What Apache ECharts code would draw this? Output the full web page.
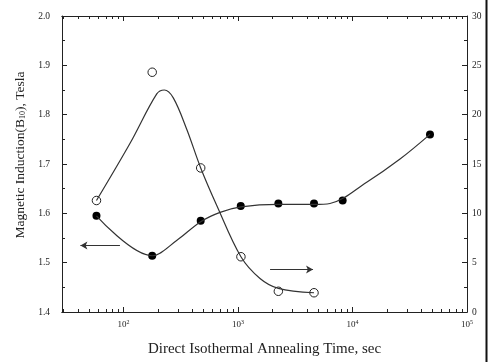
<!DOCTYPE html>
<html>
<head>
<meta charset="utf-8">
<script src="https://cdn.jsdelivr.net/npm/echarts@6/dist/echarts.min.js"></script>
<style>
  html, body { margin: 0; padding: 0; background: #fff; }
  #chart { width: 493px; height: 362px; }
</style>
</head>
<body>
<div id="chart"></div>
<script>
// measured points (time in sec)
const inductionTimes = [58, 178, 472, 1056, 2250, 4610, 8200, 47500]
const inductionTesla = [1.595, 1.514, 1.585, 1.615, 1.620, 1.620, 1.626, 1.760]
const rightTimes = [58, 178, 472, 1060, 2250, 4610]
const rightValues = [11.3, 24.3, 14.6, 5.6, 2.1, 1.95]

// fitted curves
const inductionFitTimes = [58, 178, 291, 472, 697, 1060, 2250, 4610, 6360, 13300, 26000, 47500]
const inductionFitTesla = [1.595, 1.514, 1.545, 1.583, 1.602, 1.613, 1.618, 1.618, 1.620, 1.663, 1.710, 1.760]
const rightFitTimes = [58, 114, 195, 227, 272, 357, 472, 652, 1060, 1556, 2250, 4610]
const rightFitValues = [11.3, 17.1, 22.1, 22.5, 21.7, 18.5, 14.6, 10.8, 5.6, 3.4, 2.4, 1.95]

// axis ticks
const decadeExponents = [2, 3, 4, 5]
const minorTimes = [30, 40, 50, 60, 70, 80, 90, 200, 300, 400, 500, 600, 700, 800, 900,
  2000, 3000, 4000, 5000, 6000, 7000, 8000, 9000, 20000, 30000, 40000, 50000, 60000, 70000, 80000, 90000]

// arrows
const leftArrow = { from: 93, to: 42, y: 1.535 }
const rightArrow = { from: 1905, to: 4520, y: 4.3 }

const lg = v => Math.log10(v)
const pairs = (xs, ys) => xs.map((x, i) => [lg(x), ys[i]])

const xMin = lg(29)
const xMax = 5
const font = 'Liberation Serif'
const ink = '#222'

const chart = echarts.init(document.getElementById('chart'))

const baseX = (pos, withLabels, ticks, len) => ({
  type: 'value',
  position: pos,
  min: xMin,
  max: xMax,
  axisLine: { show: true, onZero: false, lineStyle: { color: ink, width: 1 } },
  axisTick: { show: true, inside: true, length: len, lineStyle: { color: ink }, customValues: ticks },
  axisLabel: withLabels ? {
    show: true,
    margin: 7,
    customValues: decadeExponents,
    formatter: v => '{b|10}{s|' + Math.round(v) + '}',
    rich: {
      b: { fontFamily: font, fontSize: 9, color: ink, lineHeight: 12 },
      s: { fontFamily: font, fontSize: 6, color: ink, verticalAlign: 'top', lineHeight: 12 }
    }
  } : { show: false },
  splitLine: { show: false }
})

const arrowLine = (a) => ({
  silent: true,
  symbol: ['none', 'arrow'],
  symbolSize: [6, 7],
  label: { show: false },
  lineStyle: { color: '#333', width: 1, type: 'solid' },
  data: [[{ coord: [lg(a.from), a.y] }, { coord: [lg(a.to), a.y] }]]
})

const option = {
  animation: false,
  backgroundColor: '#fff',
  grid: { left: 62, right: 26, top: 16, bottom: 49 },
  xAxis: [
    Object.assign(baseX('bottom', true, decadeExponents, 5), {
      name: 'Direct Isothermal Annealing Time, sec',
      nameLocation: 'middle',
      nameGap: 30,
      nameTextStyle: { fontFamily: font, fontSize: 15, color: ink }
    }),
    baseX('bottom', false, minorTimes.map(lg), 3),
    baseX('top', false, decadeExponents, 5),
    baseX('top', false, minorTimes.map(lg), 3)
  ],
  yAxis: [
    {
      type: 'value',
      position: 'left',
      min: 1.4,
      max: 2.0,
      interval: 0.1,
      name: 'Magnetic Induction(B{sub|10}), Tesla',
      nameLocation: 'middle',
      nameRotate: 90,
      nameGap: 35,
      nameTextStyle: {
        fontFamily: font, fontSize: 13.5, color: ink,
        padding: [0, 0, 0, 18],
        rich: { sub: { fontFamily: font, fontSize: 8, color: ink, verticalAlign: 'bottom' } }
      },
      axisLine: { show: true, lineStyle: { color: ink } },
      axisTick: { show: true, inside: true, length: 5, lineStyle: { color: ink } },
      minorTick: { show: true, splitNumber: 2, length: 3, lineStyle: { color: ink } },
      axisLabel: { margin: 12, fontFamily: font, fontSize: 9.5, color: ink, formatter: v => v.toFixed(1) },
      splitLine: { show: false }
    },
    {
      type: 'value',
      position: 'right',
      min: 0,
      max: 30,
      interval: 5,
      axisLine: { show: true, lineStyle: { color: ink } },
      axisTick: { show: true, inside: true, length: 5, lineStyle: { color: ink } },
      minorTick: { show: true, splitNumber: 2, length: 3, lineStyle: { color: ink } },
      axisLabel: { margin: 5, fontFamily: font, fontSize: 9.5, color: ink },
      splitLine: { show: false }
    }
  ],
  series: [
    {
      type: 'line',
      xAxisIndex: 0,
      yAxisIndex: 0,
      smooth: 0.35,
      showSymbol: false,
      silent: true,
      lineStyle: { color: '#333', width: 1.2 },
      data: pairs(inductionFitTimes, inductionFitTesla),
      markLine: arrowLine(leftArrow)
    },
    {
      type: 'line',
      xAxisIndex: 0,
      yAxisIndex: 1,
      smooth: 0.35,
      showSymbol: false,
      silent: true,
      lineStyle: { color: '#333', width: 1.2 },
      data: pairs(rightFitTimes, rightFitValues),
      markLine: arrowLine(rightArrow)
    },
    {
      type: 'scatter',
      xAxisIndex: 0,
      yAxisIndex: 0,
      symbolSize: 8,
      itemStyle: { color: '#000', opacity: 1 },
      data: pairs(inductionTimes, inductionTesla)
    },
    {
      type: 'scatter',
      xAxisIndex: 0,
      yAxisIndex: 1,
      symbolSize: 8.5,
      itemStyle: { color: '#fff', borderColor: '#222', borderWidth: 1, opacity: 1 },
      data: pairs(rightTimes, rightValues)
    }
  ],
  graphic: [
    { type: 'rect', shape: { x: 485.5, y: 0, width: 2, height: 362 }, style: { fill: '#111' }, silent: true }
  ]
}

chart.setOption(option)
</script>
</body>
</html>
